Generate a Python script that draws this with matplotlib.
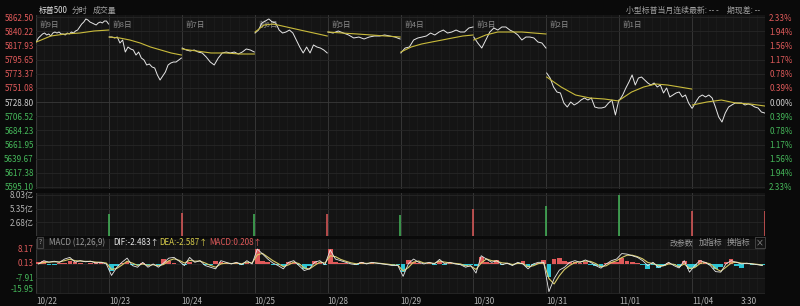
import matplotlib
matplotlib.use("Agg")
import matplotlib.pyplot as plt
import matplotlib.transforms as mtransforms
import numpy as np

plt.rcParams['font.family'] = ['Noto Sans CJK SC', 'DejaVu Sans']

# ---- data ----
days = ["10/22", "10/23", "10/24", "10/25", "10/28", "10/29", "10/30", "10/31", "11/01", "11/04"]
day_tags = ["前9日", "前8日", "前7日", "前6日", "前5日", "前4日", "前3日", "前2日", "前1日", ""]
prev_close = 5728.80

price_ticks = [5862.50, 5840.22, 5817.93, 5795.65, 5773.37, 5751.08, 5728.80,
               5706.52, 5684.23, 5661.95, 5639.67, 5617.38, 5595.10]
pct_labels = ["2.33%", "1.94%", "1.56%", "1.17%", "0.78%", "0.39%", "0.00%",
              "0.39%", "0.78%", "1.17%", "1.56%", "1.94%", "2.33%"]

price_d1 = [5823.6, 5829.5, 5832.6, 5835.8, 5837.3, 5834.2, 5835.8, 5832.6, 5837.3, 5838.9,
            5837.3, 5838.9, 5835.8, 5835.8, 5834.2, 5837.3, 5835.8, 5838.9, 5837.3, 5840.5,
            5842.0, 5846.8, 5851.5, 5854.6, 5859.4, 5857.8, 5854.6, 5853.1, 5851.5, 5849.9,
            5853.1, 5854.6, 5853.1, 5856.2, 5856.2, 5851.5]
price_d2 = [5831.0, 5831.0, 5829.5, 5831.0, 5821.6, 5826.3, 5807.4, 5815.3, 5812.2, 5810.6,
            5802.7, 5807.4, 5798.0, 5794.9, 5787.0, 5788.6, 5783.9, 5782.3, 5771.3, 5763.4,
            5769.7, 5776.0, 5787.0, 5790.1, 5791.7, 5791.7, 5794.9, 5798.0]
price_d3 = [5813.7, 5810.6, 5809.0, 5810.6, 5807.4, 5805.9, 5799.6, 5791.7, 5787.0, 5798.0,
            5805.9, 5807.4, 5805.9, 5807.4, 5804.3, 5807.4, 5812.2, 5810.6, 5807.4]
price_d4 = [5837.3, 5842.0, 5853.1, 5856.2, 5859.4, 5854.6, 5853.1, 5842.0, 5837.3, 5838.9,
            5842.0, 5837.3, 5826.3, 5815.3, 5805.9, 5815.3, 5805.9, 5818.5, 5815.3, 5813.7,
            5810.6, 5805.9]
price_d5 = [5838.9, 5837.3, 5840.5, 5837.3, 5834.2, 5829.5, 5831.0, 5827.9, 5831.0, 5832.6,
            5832.6, 5834.2, 5832.6, 5831.0, 5827.9]
price_d6 = [5805.9, 5813.7, 5815.3, 5826.3, 5829.5, 5831.0, 5832.6, 5837.3, 5834.2, 5838.9,
            5842.0, 5837.3, 5838.9, 5842.0, 5838.9, 5838.9, 5845.2, 5846.8]
price_d7 = [5831.0, 5821.6, 5813.7, 5826.3, 5838.9, 5845.2, 5842.0, 5846.8, 5846.8, 5842.0,
            5838.9, 5834.2, 5826.3, 5831.0, 5831.0, 5829.5, 5823.2, 5821.6, 5813.7]
price_d8 = [5774.4, 5766.5, 5752.4, 5744.5, 5743.0, 5727.2, 5720.9, 5728.8, 5724.1, 5727.2,
            5731.9, 5735.1, 5731.9, 5735.1, 5720.9, 5719.4, 5719.4, 5720.9, 5727.2, 5731.9,
            5708.4, 5731.9]
price_d9 = [5731.9, 5739.8, 5750.8, 5760.3, 5771.3, 5755.5, 5766.5, 5768.1, 5763.4, 5758.7,
            5755.5, 5758.7, 5752.4, 5755.5, 5743.0, 5750.8, 5736.7, 5739.8, 5743.0, 5744.5,
            5736.7, 5739.8, 5727.2, 5719.4]
price_d10 = [5719.4, 5728.8, 5736.7, 5739.8, 5736.7, 5739.8, 5735.1, 5720.9, 5705.2, 5697.3,
             5711.5, 5720.9, 5724.1, 5727.2, 5727.2, 5727.2, 5724.1, 5725.7, 5724.1, 5720.9,
             5719.4, 5713.1, 5711.5]
prices = [price_d1, price_d2, price_d3, price_d4, price_d5,
          price_d6, price_d7, price_d8, price_d9, price_d10]

avg_d1 = [5823.2, 5832.6, 5835.8, 5837.3, 5840.5, 5842.0]
avg_d2 = [5831.0, 5829.5, 5826.3, 5821.6, 5815.3, 5810.6, 5805.9, 5802.7]
avg_d3 = [5812.2, 5809.0, 5805.9, 5805.9, 5804.3, 5804.3]
avg_d4 = [5838.9, 5849.9, 5851.5, 5848.4, 5845.2, 5842.0, 5838.9, 5835.8, 5832.6]
avg_d5 = [5838.9, 5837.3, 5835.8, 5834.2, 5832.6, 5831.0]
avg_d6 = [5807.4, 5815.3, 5820.0, 5823.2, 5826.3, 5829.5, 5832.6, 5834.2]
avg_d7 = [5826.3, 5834.2, 5838.9, 5838.9, 5838.9, 5837.3, 5835.8]
avg_d8 = [5768.1, 5752.4, 5739.8, 5735.1, 5733.5, 5730.4]
avg_d9 = [5731.9, 5744.5, 5752.4, 5757.1, 5755.5, 5752.4, 5749.2]
avg_d10 = [5724.1, 5728.8, 5731.9, 5727.2, 5725.7, 5722.5]
avgs = [avg_d1, avg_d2, avg_d3, avg_d4, avg_d5, avg_d6, avg_d7, avg_d8, avg_d9, avg_d10]

# closing-auction volume per day (亿)
vol_close = [4.4, 4.6, 4.4, 4.4, 4.2, 5.2, 5.8, 8.03, 4.8, 4.8]
vol_up = [False, True, False, True, False, True, False, False, True, True]
vol_ticks = [8.03, 5.35, 2.68]

# MACD, 14 readings per day
dif = [0, 1.8, 1.0, 1.5, 0.9, 2.7, 3.6, 1.0, 1.8, 1.2, 1.5, 0.5, 0.9, 0.0,
       -6.3, -2.0, 0.9, 3.2, -0.9, -1.8, 0.9, -1.8, 0.0, -1.8, 0.5, 3.2, 3.6, 1.5,
       -0.9, 3.6, 0.9, 1.8, -0.9, -1.8, -2.7, 1.8, 0.9, 0.0, 0.9, -0.4, 1.8, 0.0,
       8.2, 5.5, 2.7, 0.5, -0.9, -2.7, 0.9, 1.8, -0.9, -3.6, -2.7, 0.9, 1.8, -0.4,
       7.7, 2.7, 1.8, 0.9, 0.0, -0.4, 0.9, 0.0, 0.9, 0.4, 0.0, -0.4, -0.9, -0.9,
       -6.8, 0.0, 2.7, 0.9, 0.0, 0.9, 0.0, 2.5, 0.0, 0.9, 0.0, -0.4, -1.8, -0.9,
       -5.0, 4.5, 2.7, 0.9, 1.8, -0.4, 0.4, -0.9, 0.9, 0.0, -2.7, 0.0, 0.9, 0.9,
       -15.2, -8.1, -3.4, -1.8, 0.9, 1.8, 0.9, 2.2, 0.9, -0.9, -2.3, 0.0, 1.8, 2.7,
       5.7, 5.4, 4.5, 3.6, 1.8, -0.9, 0.9, -1.8, -0.9, 0.9, -0.9, -2.2, 1.8, -4.5,
       -0.9, 1.8, 0.9, -0.9, -4.2, -4.5, 0.0, 1.8, 0.9, 0.0, 0.4, 0.0, -0.4, -0.9]
dea = [0.2, 0.8, 1.0, 1.2, 1.1, 1.8, 2.6, 1.8, 1.6, 1.4, 1.4, 1.0, 0.9, 0.5,
       -3.0, -2.5, -0.6, 1.5, 0.5, -0.8, 0.0, -0.8, -0.4, -1.0, -0.3, 1.8, 2.8, 2.0,
       0.5, 2.0, 1.5, 1.6, 0.5, -0.8, -1.8, 0.0, 0.5, 0.2, 0.5, 0.1, 1.0, 0.5,
       5.0, 5.8, 3.8, 1.8, 0.2, -1.5, -0.5, 1.0, 0.2, -2.2, -2.8, -0.8, 1.0, 0.5,
       4.5, 4.0, 2.5, 1.5, 0.6, 0.1, 0.5, 0.3, 0.6, 0.5, 0.2, -0.1, -0.5, -0.7,
       -3.8, -2.0, 1.0, 1.6, 0.5, 0.6, 0.3, 1.6, 1.0, 0.6, 0.3, 0.0, -1.0, -1.2,
       -3.0, 0.5, 2.8, 1.8, 1.5, 0.6, 0.4, -0.3, 0.3, 0.2, -1.5, -1.0, 0.2, 0.6,
       -8.0, -11.0, -6.5, -3.0, -0.8, 0.8, 1.2, 1.6, 1.4, 0.2, -1.5, -1.0, 0.8, 1.8,
       3.5, 4.8, 4.8, 4.0, 2.8, 0.8, 0.2, -0.8, -1.0, 0.0, -0.2, -1.5, 0.0, -2.5,
       -2.0, 0.2, 0.8, 0.0, -2.5, -4.0, -1.8, 0.5, 1.0, 0.4, 0.3, 0.1, -0.2, -0.6]
hist = [1.2, 1.5, -0.6, -0.5, 0.3, 0.4, 1.8, 1.2, 0.3, -0.3, 0.5, 1.2, 0.4, -0.2,
        -4.0, -1.0, 0.6, 1.0, -0.5, -0.8, 0.5, -0.6, 0.2, -0.5, 2.8, 1.5, 0.4, -0.3,
        -0.8, 1.0, 0.2, -0.3, -0.8, -0.5, 1.8, 1.0, 0.3, -0.2, 0.3, -0.4, 0.5, -0.2,
        8.0, 1.5, 0.8, -0.5, -0.8, -1.0, 1.0, 0.5, -0.6, -3.0, -1.0, 1.8, 0.6, -0.5,
        8.0, 1.0, 0.5, 0.3, -0.3, -0.4, 1.0, 0.2, 0.5, 0.2, -0.2, -0.3, -0.5, -0.4,
        -4.5, 2.0, 1.0, 0.3, -0.3, 0.5, -0.4, 1.5, -0.5, 0.5, -0.3, -0.6, -1.0, -0.5,
        -1.0, 4.0, 1.0, 0.4, 2.0, -0.6, 0.3, -0.5, 0.4, 1.8, -1.8, -0.4, 0.3, 2.0,
        -7.0, 2.5, 3.0, 1.5, 0.8, 1.2, 0.3, 1.0, -0.4, -1.2, -1.5, 0.3, 0.8, 1.0,
        3.0, 1.5, 0.8, 0.5, -0.8, -2.5, -0.5, -2.0, -1.0, 0.4, -0.8, -1.5, 1.5, -2.5,
        -1.5, 2.0, 1.0, -0.8, -2.5, -1.5, 1.0, 2.5, -1.0, -2.0, -0.3, -0.5, -0.8, -0.5]
macd_ticks = [8.17, 0.13, -7.91, -15.95]

# ---- style ----
BG = "#0a0a0a"
PANEL = "#141414"
GRID = "#262626"
SEP = "#363636"
RED = "#e05a5a"
GREEN = "#45b85a"
GREY = "#b4b4b4"
FS = 5.8      # numbers
FC = 5.7      # chinese header text

W, H = 800, 306
fig = plt.figure(figsize=(W / 100, H / 100), dpi=100, facecolor=BG)

def box(top, bottom, left=36, right=765):
    return [left / W, 1 - bottom / H, (right - left) / W, (bottom - top) / H]

ax = fig.add_axes(box(15, 188.5))
axv = fig.add_axes(box(193, 236))
axm = fig.add_axes(box(239, 294))

ndays = len(days)
for a in (ax, axv, axm):
    a.set_facecolor(PANEL)
    a.set_xlim(0, ndays)
    for s in a.spines.values():
        s.set_visible(False)
    a.tick_params(length=0)
    for d in range(ndays):
        for k in range(1, 9):
            a.axvline(d + k / 9, color="#1d1d1d", lw=0.5, zorder=0)
        if d > 0:
            a.axvline(d, color=SEP, lw=0.7, zorder=0.5)
    a.axvline(0, color=SEP, lw=0.9, zorder=0.5)

# ---- price panel ----
ax.set_ylim(5592.74, 5865.65)
ax.set_yticks(price_ticks)
ax.set_yticklabels([f"{p:.2f}" for p in price_ticks], fontsize=FS)
ax.tick_params(axis="y", pad=1.5)
ax.set_xticks([])
for p in price_ticks:
    ax.axhline(p, color="#3a3a3a" if p == prev_close else GRID, lw=0.6, zorder=0.6)
for lab, p in zip(ax.get_yticklabels(), price_ticks):
    lab.set_color(RED if p > prev_close else (GREEN if p < prev_close else "#d0d0d0"))

ax2 = ax.twinx()
ax2.set_ylim(ax.get_ylim())
ax2.set_yticks(price_ticks)
ax2.set_yticklabels(pct_labels, fontsize=FS)
ax2.tick_params(length=0, pad=3)
for s in ax2.spines.values():
    s.set_visible(False)
for lab, p in zip(ax2.get_yticklabels(), price_ticks):
    lab.set_color(RED if p > prev_close else (GREEN if p < prev_close else "#d0d0d0"))

for d in range(ndays):
    if day_tags[d]:
        ax.text(d + 0.05, 0.945, day_tags[d], transform=ax.get_xaxis_transform(),
                color="#8a8a8a", fontsize=5.5, va="center", ha="left", zorder=1)
    px = d + np.linspace(0.005, 0.995, len(prices[d]))
    ax.plot(px, prices[d], color="#e6e6e6", lw=0.7, zorder=3)
    ax_ = d + np.linspace(0.005, 0.995, len(avgs[d]))
    ax.plot(ax_, avgs[d], color="#c9bb3c", lw=0.8, zorder=4)

# ---- volume panel ----
axv.set_ylim(0, 8.42)
axv.set_yticks(vol_ticks)
axv.set_yticklabels([f"{v:.2f}亿" for v in vol_ticks], fontsize=FS, color=GREY)
axv.tick_params(axis="y", pad=1.5)
axv.set_xticks([])
for v in vol_ticks:
    axv.axhline(v, color=GRID, lw=0.6, zorder=0.6)
axv.axhline(0.03, color="#3a4a3a", lw=0.8, zorder=1)
vx = np.arange(1, ndays + 1) - 0.004
axv.vlines(vx, 0, vol_close, colors=[RED if u else GREEN for u in vol_up],
           lw=1.1, zorder=3)

# ---- MACD panel ----
axm.set_ylim(-16.5, 13.7)
axm.set_yticks([])
trans = mtransforms.blended_transform_factory(axm.transAxes, axm.transData)
for i, v in enumerate(macd_ticks):
    axm.axhline(v, color=GRID, lw=0.6, zorder=0.6)
    axm.text(-0.003, v + (1.9 if i == 3 else 0), f"{v:.2f}", transform=trans,
             ha="right", va="center", fontsize=FS, color=RED if v > 0 else GREEN)
nper = len(dif) // ndays
mx = np.arange(len(dif)) / nper + 0.5 / nper
axm.bar(mx, hist, width=1 / nper * 0.9,
        color=[RED if h > 0 else "#2cc4d4" for h in hist], zorder=2)
axm.plot(mx, dea, color="#d8cc6a", lw=0.8, zorder=3)
axm.plot(mx, dif, color="#e8e8e8", lw=0.6, zorder=4)

axm.set_xticks(list(range(ndays)) + [9.66])
axm.set_xticklabels(days + ["3:30"], fontsize=FS, color=GREY, ha="left")
axm.tick_params(axis="x", pad=2)

# header band for MACD
hy = 1 - 242.5 / H
fig.text(38.5 / W, hy, "?", fontsize=5, color="#9a9a9a", va="center",
         bbox=dict(boxstyle="square,pad=0.15", fc="#1c1c1c", ec="#555555", lw=0.5))
fig.text(49 / W, hy, "MACD (12,26,9)", fontsize=FS, color="#9a9a9a", va="center")
fig.text(113 / W, hy, "DIF:-2.483↑", fontsize=FS, color="#e6e6e6", va="center")
fig.text(159 / W, hy, "DEA:-2.587↑", fontsize=FS, color="#d8cc4a", va="center")
fig.text(209 / W, hy, "MACD:0.208↑", fontsize=FS, color=RED, va="center")
fig.text(670 / W, hy, "改参数", fontsize=FC, color="#9a9a9a", va="center")
fig.text(699 / W, hy, "加指标", fontsize=FC, color="#9a9a9a", va="center")
fig.text(727 / W, hy, "换指标", fontsize=FC, color="#9a9a9a", va="center")
fig.text(756 / W, hy, "×", fontsize=FC, color="#9a9a9a", va="center",
         bbox=dict(boxstyle="square,pad=0.1", fc="none", ec="#555555", lw=0.5))

# top header
ty = 1 - 10.5 / H
fig.text(39 / W, ty, "标普500", fontsize=FC, color="#e0e0e0", va="center")
fig.text(72 / W, ty, "分时", fontsize=FC, color="#a0a0a0", va="center")
fig.text(93 / W, ty, "成交量", fontsize=FC, color="#a0a0a0", va="center")
fig.text(626 / W, ty, "小型标普当月连续最新: -- -", fontsize=FC, color="#a0a0a0", va="center")
fig.text(727 / W, ty, "期现差: --", fontsize=FC, color="#a0a0a0", va="center")

plt.savefig("out.png", dpi=100, facecolor=BG)
